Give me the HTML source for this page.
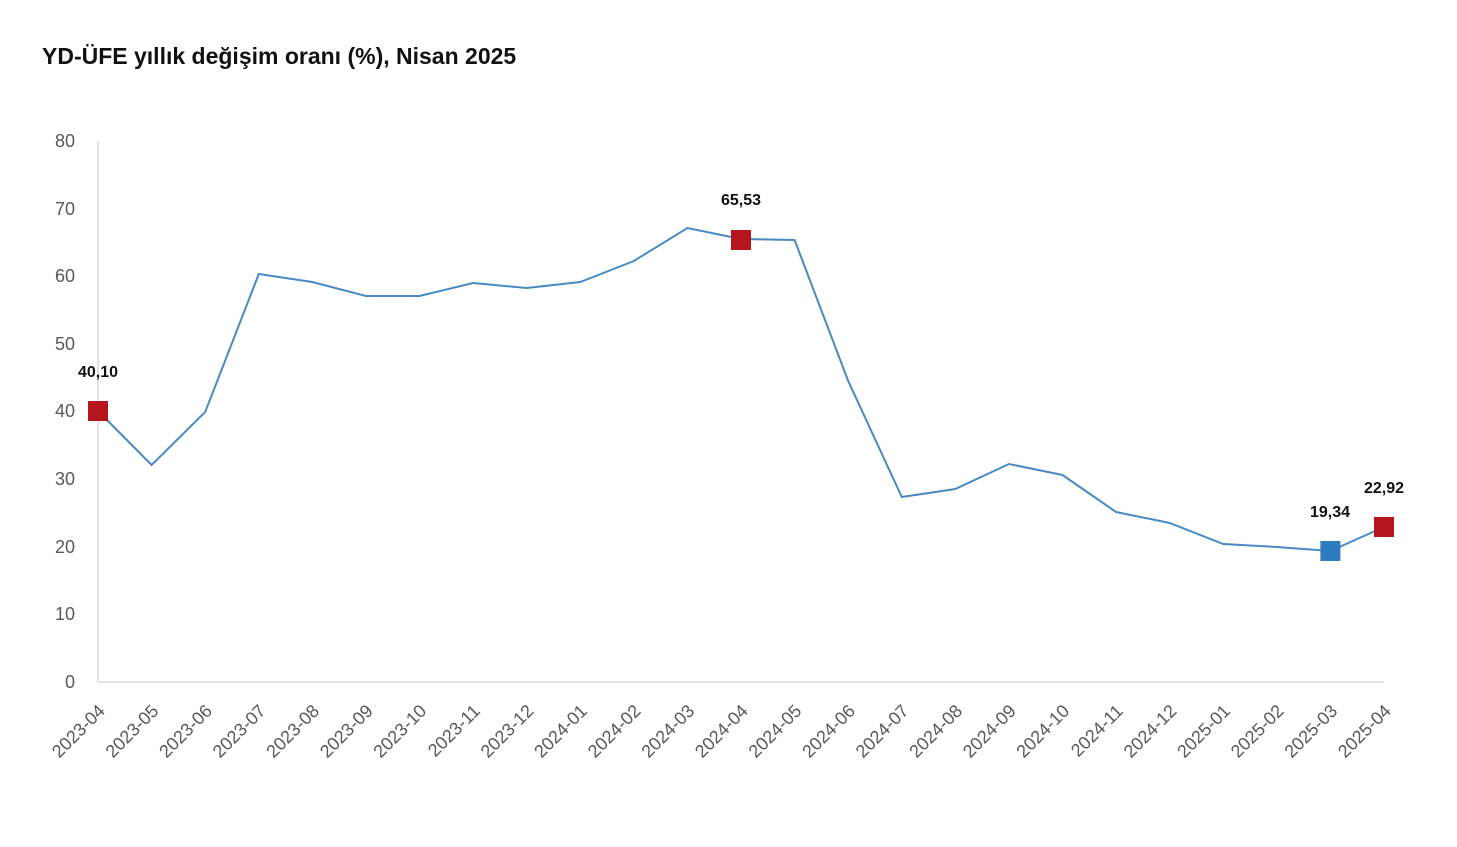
<!DOCTYPE html>
<html><head><meta charset="utf-8"><style>
html,body{margin:0;padding:0;background:#fff;}
svg{display:block;font-family:"Liberation Sans",sans-serif;}
</style></head><body>
<svg width="1457" height="847" viewBox="0 0 1457 847" xmlns="http://www.w3.org/2000/svg">
<text x="42" y="64" font-size="23" font-weight="bold" fill="#111">YD-ÜFE yıllık değişim oranı (%), Nisan 2025</text>
<g font-size="18" fill="#595959" text-anchor="end">
<text x="75" y="688">0</text>
<text x="75" y="620">10</text>
<text x="75" y="553">20</text>
<text x="75" y="485">30</text>
<text x="75" y="417">40</text>
<text x="75" y="350">50</text>
<text x="75" y="282">60</text>
<text x="75" y="215">70</text>
<text x="75" y="147">80</text>
</g>
<line x1="98" y1="141" x2="98" y2="682" stroke="#d9d9d9" stroke-width="1.5"/>
<line x1="98" y1="682" x2="1384" y2="682" stroke="#d9d9d9" stroke-width="1.5"/>
<g id="xl" font-size="18" fill="#595959" text-anchor="end"></g>
<polyline fill="none" stroke="#4a8ac4" stroke-width="2" points="98,411 151.6,465 205.2,412 258.8,274 312.3,282 365.9,296 419.5,296 473.1,283 526.7,288 580.3,282 633.8,261 687.4,228 741,239 794.6,240 848.2,381 901.8,497 955.3,489 1008.9,464 1062.5,475 1116.1,512 1169.7,523 1223.3,544 1276.8,547 1330.4,551 1384,527"/>
<rect x="88" y="401" width="20" height="20" fill="#b5161d"/>
<rect x="731" y="230" width="20" height="20" fill="#b5161d"/>
<rect x="1320.4" y="541" width="20" height="20" fill="#2e7bbf"/>
<rect x="1374" y="517" width="20" height="20" fill="#b5161d"/>
<g font-size="16" font-weight="bold" fill="#111" text-anchor="middle">
<text x="98" y="377">40,10</text>
<text x="741" y="205">65,53</text>
<text x="1330" y="517">19,34</text>
<text x="1384" y="493">22,92</text>
</g>
<script>
var g=document.getElementById('xl');
var labs=["2023-04","2023-05","2023-06","2023-07","2023-08","2023-09","2023-10","2023-11","2023-12","2024-01","2024-02","2024-03","2024-04","2024-05","2024-06","2024-07","2024-08","2024-09","2024-10","2024-11","2024-12","2025-01","2025-02","2025-03","2025-04"];
labs.forEach(function(l,i){var x=98+i*53.583+8,y=712;
var t=document.createElementNS("http://www.w3.org/2000/svg","text");
t.setAttribute("x",x);t.setAttribute("y",y);t.setAttribute("transform","rotate(-45 "+x+" "+y+")");
t.textContent=l;g.appendChild(t);});
</script>
</svg>
</body></html>
